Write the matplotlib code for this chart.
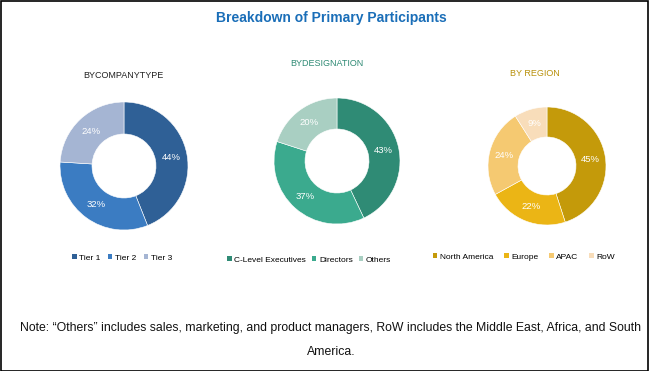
import matplotlib
matplotlib.use("Agg")
import matplotlib.pyplot as plt
import numpy as np
from matplotlib.patches import Rectangle, Patch

W, H = 649, 371
DPI = 100

# Data
company_labels = ["Tier 1", "Tier 2", "Tier 3"]
company_values = [44, 32, 24]
company_colors = ["#2F6096", "#3B7CC2", "#A5B5D3"]

designation_labels = ["C-Level Executives", "Directors", "Others"]
designation_values = [43, 37, 20]
designation_colors = ["#2F8B75", "#3BAA8E", "#A9CFC2"]

region_labels = ["North America", "Europe", "APAC", "RoW"]
region_values = [45, 22, 24, 9]
region_colors = ["#C49A0A", "#EBB515", "#F5C971", "#F8DDBA"]

plt.rcParams['font.family'] = ['Liberation Sans', 'DejaVu Sans']

fig = plt.figure(figsize=(W / DPI, H / DPI), dpi=DPI)
fig.patch.set_facecolor("white")


def px_rect(cx, cy, r):
    return [(cx - r) / W, 1 - (cy + r) / H, 2 * r / W, 2 * r / H]


def donut(cx, cy, r_out, r_in, values, colors):
    ax = fig.add_axes(px_rect(cx, cy, r_out))
    width = 1 - r_in / r_out
    ax.pie(values, colors=colors, startangle=90, counterclock=False,
           radius=1, wedgeprops=dict(width=width, edgecolor="white", linewidth=0.4))
    total = sum(values)
    cum = 0
    rmid = 1 - width / 2
    for v in values:
        mid = (cum + v / 2) / total * 2 * np.pi
        x = rmid * np.sin(mid)
        y = rmid * np.cos(mid)
        ax.text(x, y, f"{v}%", color="white", ha="center", va="center", fontsize=6.8)
        cum += v
    ax.set_xlim(-1, 1)
    ax.set_ylim(-1, 1)
    ax.axis("off")
    return ax


donut(124, 166, 64, 32, company_values, company_colors)
donut(337, 161, 63, 32, designation_values, designation_colors)
donut(547, 166, 59, 29, region_values, region_colors)

# Titles
fig.text(331 / W, 1 - 18 / H, "Breakdown of Primary Participants", ha="center", va="center",
         fontsize=10, fontweight="bold", color="#1A6EB8")
fig.text(123 / W, 1 - 75 / H, "BYCOMPANYTYPE", ha="center", va="center", fontsize=6.5, color="#222222")
fig.text(327 / W, 1 - 63 / H, "BYDESIGNATION", ha="center", va="center", fontsize=6.5, color="#2E8A74")
fig.text(535 / W, 1 - 74 / H, "BY REGION", ha="center", va="center", fontsize=6.5, color="#B8900A")


def legend(labels, colors, cx, cy, colsp=1.0):
    handles = [Patch(facecolor=c, edgecolor="none") for c in colors]
    fig.legend(handles, labels, loc="center", bbox_to_anchor=(cx / W, 1 - cy / H), ncol=len(labels),
               frameon=False, fontsize=6, handlelength=0.55, handleheight=0.55, handletextpad=0.3,
               columnspacing=colsp, borderpad=0, borderaxespad=0)


legend(company_labels, company_colors, 122, 258, 0.9)
legend(designation_labels, designation_colors, 309, 260, 0.7)
legend(region_labels, region_colors, 524, 257, 1.3)

# Note
fig.text(331 / W, 1 - 328 / H,
         "Note: \u201cOthers\u201d includes sales, marketing, and product managers, RoW includes the Middle East, Africa, and South",
         ha="center", va="center", fontsize=8.8, color="#111111")
fig.text(331 / W, 1 - 352 / H, "America.", ha="center", va="center", fontsize=8.8, color="#111111")

# Border
fig.patches.append(Rectangle((0.5 / W, 0.5 / H), 1 - 1.5 / W, 1 - 1.5 / H, transform=fig.transFigure,
                             fill=False, edgecolor="black", linewidth=1.2))

fig.savefig("out.png", dpi=DPI)
